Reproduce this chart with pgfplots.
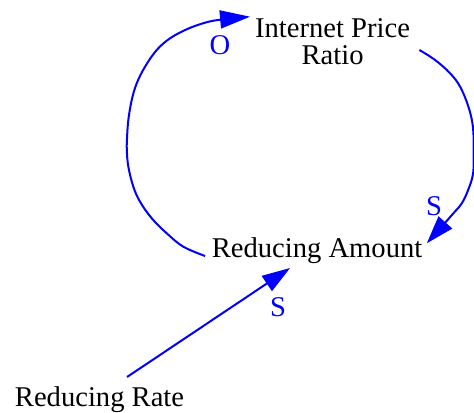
\documentclass[border=0pt]{standalone}
\usepackage{fontspec}
\setmainfont{Liberation Serif}
\usepackage{pgfplots}
\pgfplotsset{compat=1.18}
\usetikzlibrary{arrows.meta}
\begin{document}
\begin{tikzpicture}
\begin{axis}[
	width=237pt, height=206pt,
	scale only axis,
	xmin=0, xmax=474, ymin=0, ymax=412,
	hide axis,
	clip=false,
	every axis plot/.append style={blue, line width=1pt, no markers},
]
% loop: Reducing Amount -> Internet Price Ratio (O)
\addplot[smooth, tension=0.6, -{Triangle[length=15pt,width=9pt]}] coordinates {
	(205,156) (183.3,165.3) (166.7,178.7) (151.7,193.7) (140,210.3)
	(133.3,225.3) (128.3,245.3) (126.8,262) (127,274) (128.3,292)
	(131.7,312) (136.7,328.7) (145,345.3) (156.7,362) (170,373.7)
	(186.7,382.7) (203,388.7) (218,392) (250,395.3)};
% Internet Price Ratio -> Reducing Amount (S)
\addplot[smooth, tension=0.6, -{Triangle[length=14pt,width=9pt]}] coordinates {
	(419.3,362) (435,352) (450,338.7) (460,325.3) (468.3,305.3)
	(472.8,285.3) (473.5,262) (473,238.7) (468,222) (461.7,208.7)
	(453.3,198.7) (426.7,168.7)};
% Reducing Rate -> Reducing Amount (S)
\addplot[-{Triangle[length=14pt,width=9pt]}] coordinates {
	(127,35) (290,144)};

\tikzset{lbl/.style={anchor=base, inner sep=0pt, font=\fontsize{14.3}{17}\selectfont}}
\node[lbl] at (axis cs:332.5,374) {Internet Price};
\node[lbl] at (axis cs:332.5,347) {Ratio};
\node[lbl] at (axis cs:317,155) {Reducing Amount};
\node[lbl] at (axis cs:99.5,6) {Reducing Rate};
\node[lbl, text=blue] at (axis cs:220,357) {O};
\node[lbl, text=blue] at (axis cs:434,197) {S};
\node[lbl, text=blue] at (axis cs:278,96) {S};
\end{axis}
\pgfresetboundingbox
\useasboundingbox (0,0) rectangle (237pt,206pt);
\end{tikzpicture}
\end{document}
